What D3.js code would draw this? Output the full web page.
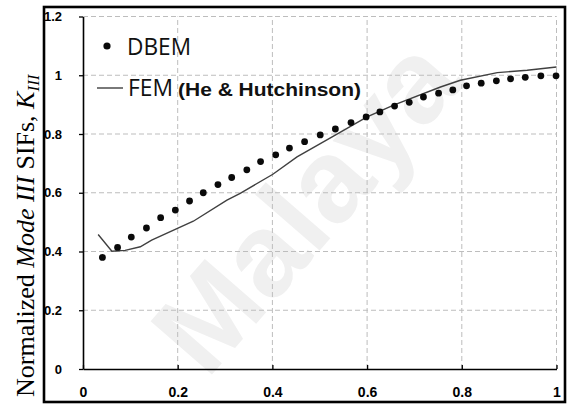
<!DOCTYPE html>
<html>
<head>
<meta charset="utf-8">
<script src="https://cdn.jsdelivr.net/npm/d3@7"></script>
<style>
  html, body { margin: 0; padding: 0; background: #fff; }
  svg { display: block; }
</style>
</head>
<body>
<svg id="chart" width="569" height="405"></svg>
<script>
// Normalized crack-front position (x) and normalized Mode III SIF values
const dbemX = [0.041, 0.073, 0.102, 0.134, 0.164, 0.195, 0.225, 0.254, 0.285, 0.314,
               0.346, 0.375, 0.407, 0.436, 0.468, 0.501, 0.533, 0.566, 0.598, 0.627,
               0.658, 0.689, 0.719, 0.751, 0.781, 0.810, 0.841, 0.873, 0.903, 0.934,
               0.967, 0.999];
const dbemY = [0.380, 0.414, 0.449, 0.480, 0.515, 0.541, 0.572, 0.600, 0.628, 0.652,
               0.678, 0.706, 0.729, 0.752, 0.774, 0.797, 0.817, 0.839, 0.858, 0.875,
               0.895, 0.908, 0.926, 0.939, 0.950, 0.964, 0.973, 0.981, 0.988, 0.993,
               0.998, 0.998];

const femX = [0.032, 0.061, 0.089, 0.121, 0.145, 0.233, 0.304, 0.332, 0.401, 0.452,
              0.529, 0.600, 0.656, 0.755, 0.797, 0.875, 0.938, 1.000];
const femY = [0.458, 0.401, 0.404, 0.416, 0.439, 0.503, 0.575, 0.598, 0.663, 0.722,
              0.793, 0.858, 0.898, 0.960, 0.983, 1.009, 1.017, 1.028];

const xTicks = [0, 0.2, 0.4, 0.6, 0.8, 1];
const xTickLabels = ["0", "0.2", "0.4", "0.6", "0.8", "1"];
const yTicks = [0, 0.2, 0.4, 0.6, 0.8, 1, 1.2];
const yTickLabels = ["0", "0.2", "0.4", "0.6", "0.8", "1", "1.2"];

const seriesNames = ["DBEM", "FEM", "(He & Hutchinson)"];

const svg = d3.select("#chart");

const x = d3.scaleLinear().domain([0, 1]).range([83, 556.5]);
const y = d3.scaleLinear().domain([0, 1.2]).range([369, 16.5]);

// faint background watermark
svg.append("text")
  .attr("transform", "translate(305,205) rotate(-49)")
  .attr("text-anchor", "middle")
  .attr("dominant-baseline", "central")
  .attr("font-family", "Liberation Sans, Arial, sans-serif")
  .attr("font-weight", "bold")
  .attr("font-size", 118)
  .attr("fill", "#f0f0f0")
  .text("Malaya");

// dashed grid
const grid = svg.append("g").attr("stroke", "#bdbdbd").attr("stroke-width", 1)
  .attr("stroke-dasharray", "5,3").attr("fill", "none");
grid.selectAll("line.h").data(yTicks.filter(d => d > 0)).join("line")
  .attr("x1", x(0)).attr("x2", x(1))
  .attr("y1", d => y(d)).attr("y2", d => y(d));
grid.selectAll("line.v").data(xTicks.filter(d => d > 0)).join("line")
  .attr("x1", d => x(d)).attr("x2", d => x(d))
  .attr("y1", y(0)).attr("y2", y(1.2));

// axes
const xAxis = d3.axisBottom(x).tickValues(xTicks).tickSizeInner(-4).tickSizeOuter(0)
  .tickFormat((d, i) => xTickLabels[i]);
const gx = svg.append("g").attr("transform", `translate(0,${y(0)})`).call(xAxis);
gx.select(".domain").attr("stroke", "#000").attr("stroke-width", 1.6);
gx.selectAll(".tick line").attr("stroke", "#000").attr("stroke-width", 1.3);
gx.selectAll(".tick text")
  .attr("y", 28).attr("dy", 0)
  .attr("font-family", "Liberation Sans, Arial, sans-serif")
  .attr("font-weight", "bold").attr("font-size", 14).attr("fill", "#000");

const yAxis = d3.axisLeft(y).tickValues(yTicks).tickSizeInner(4).tickSizeOuter(0)
  .tickFormat((d, i) => yTickLabels[i]);
const gy = svg.append("g").attr("transform", `translate(${x(0)},0)`).call(yAxis);
gy.select(".domain").attr("stroke", "#000").attr("stroke-width", 1.6);
gy.selectAll(".tick line").attr("stroke", "#000").attr("stroke-width", 1.3);
gy.selectAll(".tick text")
  .attr("x", -21)
  .attr("font-family", "Liberation Sans, Arial, sans-serif")
  .attr("font-weight", "bold").attr("font-size", 13).attr("fill", "#000");

// FEM curve
const fem = femX.map((d, i) => [d, femY[i]]);
svg.append("path")
  .datum(fem)
  .attr("fill", "none")
  .attr("stroke", "#404040")
  .attr("stroke-width", 1.4)
  .attr("d", d3.line().x(d => x(d[0])).y(d => y(d[1])));

// DBEM points
const dbem = dbemX.map((d, i) => [d, dbemY[i]]);
svg.append("g").selectAll("circle").data(dbem).join("circle")
  .attr("cx", d => x(d[0])).attr("cy", d => y(d[1]))
  .attr("r", 3.4).attr("fill", "#0a0a0a");

// legend
const lg = svg.append("g");
lg.append("circle").attr("cx", 107).attr("cy", 46).attr("r", 3.6).attr("fill", "#0a0a0a");
lg.append("text").attr("x", 127).attr("y", 55)
  .attr("font-family", "Open Sans, sans-serif").attr("font-size", 23).attr("fill", "#111")
  .attr("textLength", 64).attr("lengthAdjust", "spacingAndGlyphs")
  .text(seriesNames[0]);
lg.append("line").attr("x1", 97).attr("x2", 123).attr("y1", 88).attr("y2", 88)
  .attr("stroke", "#404040").attr("stroke-width", 1.4);
lg.append("text").attr("x", 128).attr("y", 96)
  .attr("font-family", "Open Sans, sans-serif").attr("font-size", 23).attr("fill", "#111")
  .attr("textLength", 45).attr("lengthAdjust", "spacingAndGlyphs")
  .text(seriesNames[1]);
lg.append("text").attr("x", 178).attr("y", 96)
  .attr("font-family", "Liberation Sans, Arial, sans-serif").attr("font-weight", "bold")
  .attr("font-size", 18).attr("fill", "#111")
  .attr("textLength", 183).attr("lengthAdjust", "spacingAndGlyphs")
  .text(seriesNames[2]);

// y-axis title
const yt = svg.append("text")
  .attr("transform", "translate(34,397) rotate(-90)")
  .attr("font-family", "Liberation Serif, Times New Roman, serif")
  .attr("font-size", 26).attr("fill", "#000");
yt.append("tspan").text("Normalized ");
yt.append("tspan").attr("font-style", "italic").text("Mode III");
yt.append("tspan").text(" SIFs, ");
yt.append("tspan").attr("font-style", "italic").text("K");
yt.append("tspan").attr("font-style", "italic").attr("font-size", 17).attr("dy", 5).text("III");

// outer frame
svg.append("rect")
  .attr("x", 44).attr("y", 7).attr("width", 521).attr("height", 395)
  .attr("fill", "none").attr("stroke", "#000").attr("stroke-width", 2.6);
</script>
</body>
</html>
